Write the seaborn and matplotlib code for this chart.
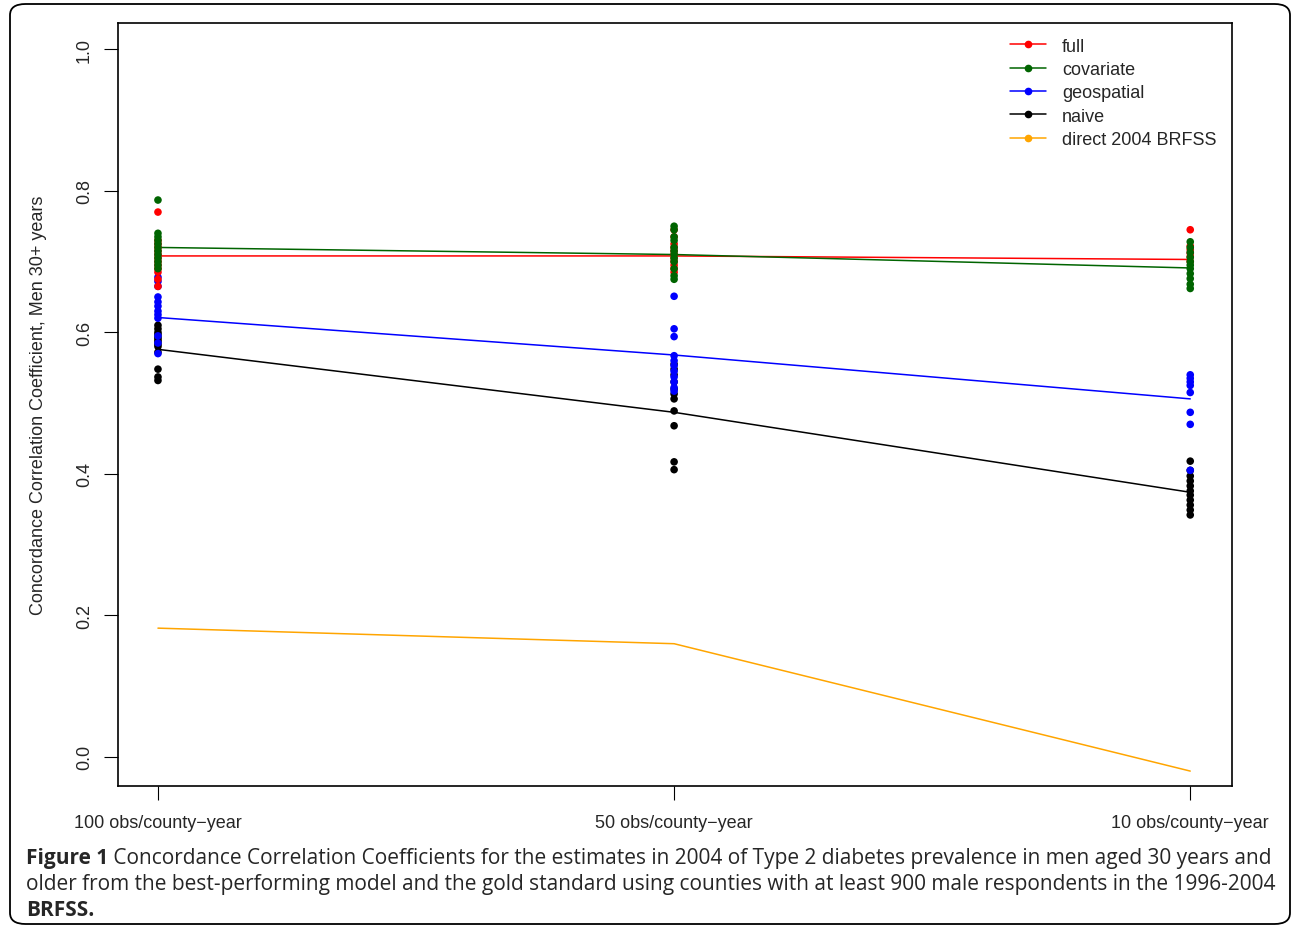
import numpy as np
import pandas as pd
import matplotlib
matplotlib.use("Agg")
import matplotlib.pyplot as plt
import seaborn as sns
from matplotlib.patches import FancyBboxPatch

# ---------------------------------------------------------
# Daten
# ---------------------------------------------------------
sample_labels = ["100 obs/county\u2212year", "50 obs/county\u2212year", "10 obs/county\u2212year"]
models = ["full", "covariate", "geospatial", "naive", "direct 2004 BRFSS"]
model_colors = ["#ff0000", "#006400", "#0000ff", "#000000", "#ffa500"]

# lines (means per sample size)
line_full = [0.708, 0.708, 0.703]
line_covariate = [0.720, 0.710, 0.691]
line_geospatial = [0.621, 0.568, 0.506]
line_naive = [0.576, 0.487, 0.374]
line_direct = [0.182, 0.160, -0.020]

# replicate points, 100 obs
full_100 = [0.770, 0.730, 0.725, 0.720, 0.715, 0.710, 0.705, 0.700, 0.695, 0.690, 0.685, 0.675, 0.665]
covariate_100 = [0.787, 0.740, 0.735, 0.730, 0.725, 0.720, 0.715, 0.710, 0.705, 0.700, 0.695, 0.690]
geospatial_100 = [0.678, 0.672, 0.665, 0.650, 0.643, 0.637, 0.630, 0.625, 0.620, 0.595, 0.585, 0.570]
naive_100 = [0.610, 0.605, 0.600, 0.597, 0.593, 0.590, 0.587, 0.583, 0.580, 0.572, 0.548, 0.537, 0.532]

# 50 obs
full_50 = [0.745, 0.735, 0.725, 0.720, 0.715, 0.710, 0.705, 0.700, 0.695, 0.690, 0.685]
covariate_50 = [0.750, 0.745, 0.735, 0.730, 0.720, 0.715, 0.710, 0.705, 0.700, 0.690, 0.680, 0.675]
geospatial_50 = [0.651, 0.605, 0.594, 0.567, 0.560, 0.553, 0.545, 0.537, 0.530, 0.522, 0.517]
naive_50 = [0.555, 0.548, 0.540, 0.530, 0.520, 0.513, 0.506, 0.489, 0.468, 0.417, 0.406]

# 10 obs
full_10 = [0.745, 0.722, 0.717, 0.712, 0.707, 0.700]
covariate_10 = [0.728, 0.720, 0.713, 0.706, 0.700, 0.695, 0.690, 0.683, 0.676, 0.668, 0.662]
geospatial_10 = [0.540, 0.535, 0.530, 0.525, 0.515, 0.487, 0.470, 0.405]
naive_10 = [0.418, 0.405, 0.397, 0.390, 0.383, 0.376, 0.370, 0.363, 0.356, 0.349, 0.342]

caption_bold = "Figure 1"
caption_lines = [
    " Concordance Correlation Coefficients for the estimates in 2004 of Type 2 diabetes prevalence in men aged 30 years and",
    "older from the best-performing model and the gold standard using counties with at least 900 male respondents in the 1996-2004",
    "BRFSS.",
]

# ---------------------------------------------------------
# Tabellen bauen
# ---------------------------------------------------------
lines_df = pd.DataFrame({
    "pos": np.tile([0, 1, 2], 5),
    "ccc": line_full + line_covariate + line_geospatial + line_naive + line_direct,
    "model": np.repeat(models, 3),
})

pts = {
    "full": [full_100, full_50, full_10],
    "covariate": [covariate_100, covariate_50, covariate_10],
    "geospatial": [geospatial_100, geospatial_50, geospatial_10],
    "naive": [naive_100, naive_50, naive_10],
}
rows = []
for m, groups in pts.items():
    for pos, vals in enumerate(groups):
        for v in vals:
            rows.append({"pos": pos, "ccc": v, "model": m})
points_df = pd.DataFrame(rows)

# ---------------------------------------------------------
# Plot
# ---------------------------------------------------------
sns.set_style("white")
plt.rcParams["font.family"] = ["Liberation Sans", "DejaVu Sans"]

fig = plt.figure(figsize=(12.92, 9.28), dpi=100)
ax = fig.add_axes([0.0913, 0.152, 0.8623, 0.822])

palette = dict(zip(models, model_colors))

sns.lineplot(data=lines_df, x="pos", y="ccc", hue="model", hue_order=models,
             palette=palette, linewidth=1.1, legend=False, ax=ax)

# Reihenfolge: naive, geospatial, full, covariate
for m in ["naive", "geospatial", "full", "covariate"]:
    sub = points_df[points_df["model"] == m]
    sns.scatterplot(data=sub, x="pos", y="ccc", color=palette[m], s=30,
                    edgecolor="none", legend=False, ax=ax, zorder=3)

ax.set_xlim(-0.0775, 2.081)
ax.set_ylim(-0.041, 1.037)
ax.set_xticks([0, 1, 2])
ax.set_xticklabels(sample_labels, fontsize=13)
ax.set_yticks([0.0, 0.2, 0.4, 0.6, 0.8, 1.0])
ax.set_yticklabels(["0.0", "0.2", "0.4", "0.6", "0.8", "1.0"], fontsize=13,
                   rotation=90, va="center")
ax.tick_params(axis="both", direction="out", length=10, width=0.8, color="black",
               bottom=True, left=True)
ax.tick_params(axis="x", pad=10)
ax.tick_params(axis="y", pad=8)
ax.set_xlabel("")
ax.set_ylabel("Concordance Correlation Coefficient, Men 30+ years", fontsize=13, labelpad=21)
for sp in ax.spines.values():
    sp.set_color("black")
    sp.set_linewidth(1.2)

# Legende
handles = [plt.Line2D([0], [0], color=c, lw=1.1, marker="o", markersize=4.5)
           for c in model_colors]
ax.legend(handles, models, loc="upper right", bbox_to_anchor=(0.999, 1.0),
          frameon=False, fontsize=13, handlelength=2.0, handletextpad=0.9,
          labelspacing=0.35, borderaxespad=0.4)

# Rahmen um die Abbildung
frame = FancyBboxPatch((10 / 1292, 3 / 928), 1280 / 1292, 920 / 928,
                       boxstyle="round,pad=0,rounding_size=0.012",
                       transform=fig.transFigure, fill=False,
                       edgecolor="black", linewidth=1.3)
fig.patches.append(frame)

# Bildunterschrift
cap_font = ["Open Sans", "DejaVu Sans"]
x0 = 26 / 1292
y_lines = [859, 885, 911]
t_bold = fig.text(x0, 1 - y_lines[0] / 928, caption_bold, fontsize=15,
                  fontweight="bold", family=cap_font, va="center")
fig.canvas.draw()
bb = t_bold.get_window_extent(renderer=fig.canvas.get_renderer())
fig.text(bb.x1 / fig.bbox.width, 1 - y_lines[0] / 928, caption_lines[0],
         fontsize=15, family=cap_font, va="center")
for line, yy in zip(caption_lines[1:], y_lines[1:]):
    weight = "bold" if line == "BRFSS." else "normal"
    fig.text(x0, 1 - yy / 928, line, fontsize=15, family=cap_font,
             va="center", fontweight=weight)

plt.savefig("out.png", dpi=100)
plt.close()
